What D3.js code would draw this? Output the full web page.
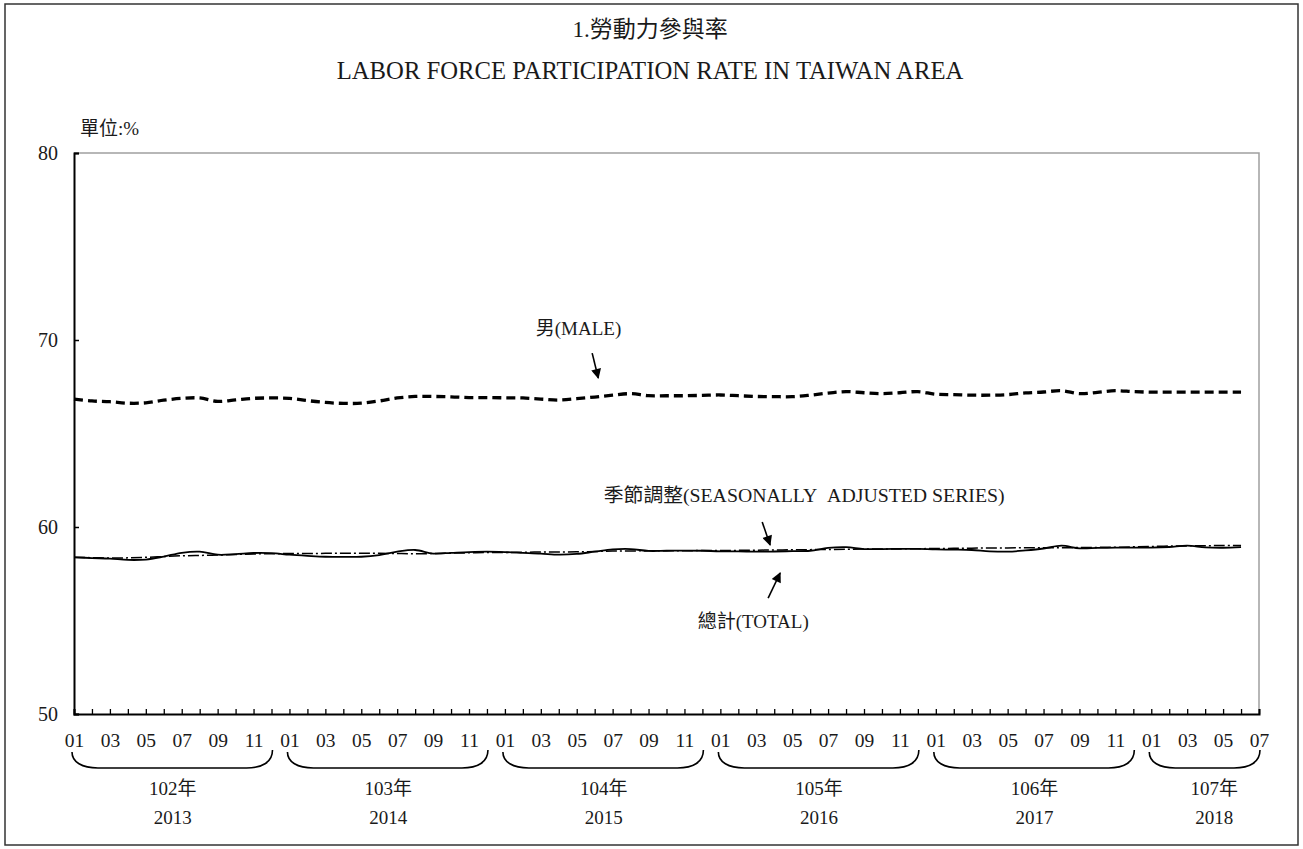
<!DOCTYPE html>
<html><head><meta charset="utf-8">
<script src="https://cdn.jsdelivr.net/npm/d3@7"></script>
<style>
body{margin:0;background:#fff}
svg text{font-family:"Liberation Serif","Times New Roman","Noto Sans CJK TC",serif;fill:#1a1a1a}
</style>
</head><body><svg id="c" width="1303" height="849"></svg>
<script>
// ---- data ----
const titleZh = "1.勞動力參與率";
const titleEn = "LABOR FORCE PARTICIPATION RATE IN TAIWAN AREA";
const unitLabel = "單位:%";
const yearsROC = ["102年","103年","104年","105年","106年","107年"];
const yearsAD = ["2013","2014","2015","2016","2017","2018"];
const monthLabels = ["01","03","05","07","09","11"];
const yTicks = [50,60,70,80];
// monthly values Jan 2013 - Jun 2018
const male = [
 66.84,66.74,66.70,66.62,66.64,66.78,66.88,66.90,66.72,66.80,66.88,66.90,
 66.88,66.76,66.66,66.61,66.62,66.74,66.90,66.98,66.98,66.96,66.92,66.92,
 66.91,66.90,66.84,66.79,66.86,66.95,67.05,67.13,67.02,67.02,67.02,67.04,
 67.06,67.02,66.98,66.97,66.97,67.05,67.16,67.24,67.18,67.13,67.18,67.24,
 67.10,67.08,67.05,67.05,67.08,67.17,67.22,67.29,67.13,67.20,67.29,67.24,
 67.21,67.21,67.21,67.21,67.21,67.21];
const total = [
 58.38,58.34,58.31,58.24,58.26,58.42,58.62,58.68,58.52,58.55,58.61,58.60,
 58.52,58.46,58.41,58.40,58.41,58.50,58.68,58.77,58.58,58.62,58.66,58.68,
 58.66,58.62,58.58,58.52,58.56,58.68,58.80,58.82,58.72,58.73,58.74,58.73,
 58.70,58.70,58.68,58.69,58.71,58.73,58.88,58.92,58.82,58.82,58.83,58.83,
 58.80,58.79,58.77,58.70,58.68,58.75,58.85,59.00,58.86,58.88,58.90,58.90,
 58.90,58.93,59.00,58.91,58.89,58.92];
const seasonal = [
 58.38,58.36,58.34,58.35,58.38,58.42,58.46,58.48,58.50,58.53,58.56,58.57,
 58.58,58.58,58.59,58.59,58.59,58.59,58.58,58.57,58.58,58.60,58.62,58.64,
 58.64,58.65,58.66,58.66,58.67,58.69,58.71,58.72,58.73,58.73,58.73,58.74,
 58.74,58.75,58.76,58.77,58.78,58.79,58.80,58.81,58.82,58.82,58.83,58.84,
 58.85,58.86,58.87,58.88,58.88,58.89,58.89,58.89,58.90,58.91,58.92,58.94,
 58.96,58.98,58.99,59.00,59.01,59.01];
// annotations in data units [month index, value]
const annMale = {text:"男(MALE)", at:[28.1,70.64], from:[28.86,69.30], to:[29.2,67.97]};
const annSA = {text:"季節調整(SEASONALLY\u00a0\u00a0ADJUSTED SERIES)", at:[40.67,61.71], from:[38.33,60.27], to:[38.77,59.04]};
const annTotal = {text:"總計(TOTAL)", at:[37.83,54.92], from:[38.66,56.2], to:[39.33,57.54]};

// ---- chart ----
const svg = d3.select("#c");
const nMonths = 66;
const x = d3.scaleLinear().domain([0, nMonths]).range([74, 1259]);
const y = d3.scaleLinear().domain([50, 80]).range([714, 153]);

svg.append("rect").attr("x",5).attr("y",4).attr("width",1293).attr("height",841)
  .attr("fill","none").attr("stroke","#333").attr("stroke-width",1.5);

svg.append("text").attr("x",650).attr("y",29).attr("text-anchor","middle")
  .attr("dominant-baseline","central").style("font-size","23px").text(titleZh);
svg.append("text").attr("x",650).attr("y",70).attr("text-anchor","middle")
  .attr("dominant-baseline","central").style("font-size","24.7px").text(titleEn);
svg.append("text").attr("x",80).attr("y",128)
  .attr("dominant-baseline","central").style("font-size","19px").text(unitLabel);

// frame: top & right grey
svg.append("path").attr("d",`M${x(0)},${y(80)}H${x(nMonths)}V${y(50)}`)
  .attr("fill","none").attr("stroke","#a0a0a0").attr("stroke-width",1.5);

// left axis
const ya = svg.append("g").attr("transform",`translate(${x(0)},0)`)
  .call(d3.axisLeft(y).tickValues(yTicks).tickSize(-5).tickPadding(16).tickFormat(d3.format("d")));
ya.select(".domain").attr("stroke","#000").attr("stroke-width",2);
ya.selectAll(".tick line").attr("stroke","#000").attr("stroke-width",1.5);
ya.selectAll("text").style("font-size","20px").attr("fill","#1a1a1a");

// bottom axis
const xa = svg.append("g").attr("transform",`translate(0,${y(50)})`)
  .call(d3.axisBottom(x).tickValues(d3.range(0,nMonths+1)).tickSize(-5).tickPadding(19)
    .tickFormat(i => i%2===0 ? monthLabels[(i%12)/2] : ""));
xa.select(".domain").attr("stroke","#000").attr("stroke-width",2);
xa.selectAll(".tick line").attr("stroke","#000").attr("stroke-width",1.3);
xa.selectAll("text").style("font-size","19.5px").attr("fill","#1a1a1a");

// year braces & labels
yearsROC.forEach((lab,k) => {
  const s = k*12, e = Math.min(k*12+11, nMonths);
  const x0 = x(s)-2, x1 = x(e)+1;
  svg.append("path")
    .attr("d",`M${x0},752 C${x0},762 ${x0+10},768 ${x0+26},768 L${x1-26},768 C${x1-10},768 ${x1},762 ${x1},750`)
    .attr("fill","none").attr("stroke","#000").attr("stroke-width",1.6);
  const cx = (x(s)+x(e))/2 + (e-s<11 ? 9 : 0);
  svg.append("text").attr("x",cx).attr("y",788).attr("text-anchor","middle")
    .attr("dominant-baseline","central").style("font-size","19px").text(lab);
  svg.append("text").attr("x",cx).attr("y",817).attr("text-anchor","middle")
    .attr("dominant-baseline","central").style("font-size","19px").text(yearsAD[k]);
});

// series
const line = d3.line().x((d,i)=>x(i)).y(d=>y(d)).curve(d3.curveCatmullRom.alpha(0.5));
svg.append("path").datum(male).attr("d",line).attr("fill","none")
  .attr("stroke","#000").attr("stroke-width",3.3).attr("stroke-dasharray","9,5");
svg.append("path").datum(seasonal).attr("d",line).attr("fill","none")
  .attr("stroke","#000").attr("stroke-width",1.5).attr("stroke-dasharray","11,3,2,3");
svg.append("path").datum(total).attr("d",line).attr("fill","none")
  .attr("stroke","#000").attr("stroke-width",1.8);

// arrows
const defs = svg.append("defs");
defs.append("marker").attr("id","ah").attr("viewBox","0 0 10 10").attr("refX",9).attr("refY",5)
  .attr("markerWidth",12).attr("markerHeight",10).attr("markerUnits","userSpaceOnUse").attr("orient","auto")
  .append("path").attr("d","M0,0 L10,5 L0,10 Z").attr("fill","#000");

[annMale, annSA, annTotal].forEach(a => {
  svg.append("text").attr("x",x(a.at[0])).attr("y",y(a.at[1])).attr("text-anchor","middle")
    .attr("dominant-baseline","central").style("font-size",a===annSA?"19.8px":"19px").text(a.text);
  svg.append("line").attr("x1",x(a.from[0])).attr("y1",y(a.from[1]))
    .attr("x2",x(a.to[0])).attr("y2",y(a.to[1]))
    .attr("stroke","#000").attr("stroke-width",1.6).attr("marker-end","url(#ah)");
});
</script></body></html>
